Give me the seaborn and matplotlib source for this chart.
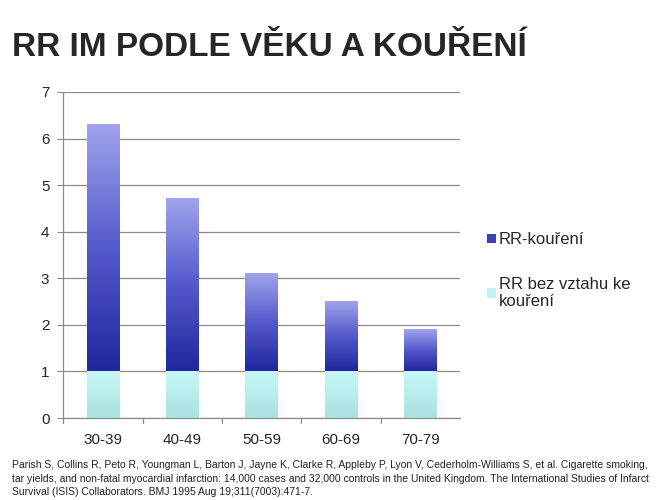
import numpy as np
import pandas as pd
import matplotlib
matplotlib.use("Agg")
import matplotlib.pyplot as plt
from matplotlib.colors import LinearSegmentedColormap
from matplotlib.patches import Patch
import seaborn as sns

# data
age_groups = ["30-39", "40-49", "50-59", "60-69", "70-79"]
rr_baseline = [1.0, 1.0, 1.0, 1.0, 1.0]
rr_smoking = [5.3, 3.7, 2.1, 1.5, 0.9]
y_ticks = [0, 1, 2, 3, 4, 5, 6, 7]

title = "RR IM PODLE VĚKU A KOUŘENÍ"
legend_labels = ["RR-kouření", "RR bez vztahu ke\nkouření"]
citation = ("Parish S, Collins R, Peto R, Youngman L, Barton J, Jayne K, Clarke R, Appleby P, Lyon V, "
            "Cederholm-Williams S, et al. Cigarette smoking,\n"
            "tar yields, and non-fatal myocardial infarction: 14,000 cases and 32,000 controls in the "
            "United Kingdom. The International Studies of Infarct\n"
            "Survival (ISIS) Collaborators. BMJ 1995 Aug 19;311(7003):471-7.")

df = pd.DataFrame({"age": age_groups, "base": rr_baseline, "smoke": rr_smoking})
df["total"] = df["base"] + df["smoke"]

sns.set_style("white")
plt.rcParams["font.family"] = ["Liberation Sans", "DejaVu Sans"]

fig = plt.figure(figsize=(6.66, 5), dpi=100)
ax = fig.add_axes([0.095, 0.164, 0.596, 0.652])

bar_w = 0.41
sns.barplot(data=df, x="age", y="total", ax=ax, width=bar_w, color="#5a5fd0", linewidth=0, zorder=2)
n_top = len(ax.patches)
sns.barplot(data=df, x="age", y="base", ax=ax, width=bar_w, color="#bff3f2", linewidth=0, zorder=3)

blue_cmap = LinearSegmentedColormap.from_list("blu", ["#22269c", "#5459cc", "#a0a4ec"])
cyan_cmap = LinearSegmentedColormap.from_list("cya", ["#a8e2e0", "#c8f8f8"])
grad = np.linspace(0, 1, 256).reshape(-1, 1)

for i, p in enumerate(ax.patches):
    x0, y0 = p.get_x(), p.get_y()
    w, h = p.get_width(), p.get_height()
    cmap = blue_cmap if i < n_top else cyan_cmap
    bottom = 1.0 if i < n_top else y0
    p.set_visible(False)
    ax.imshow(grad, cmap=cmap, origin="lower", aspect="auto",
              extent=(x0, x0 + w, bottom, y0 + h), zorder=3)

ax.set_xlim(-0.5, 4.5)
ax.set_ylim(0, 7)
ax.set_yticks(y_ticks)
ax.set_xticks(range(len(age_groups)))
ax.set_xticklabels(age_groups)
ax.yaxis.grid(True, color="#8a8a8a", linewidth=0.9, zorder=1)
ax.set_axisbelow(True)
ax.set_xlabel("")
ax.set_ylabel("")

for s in ["top", "right"]:
    ax.spines[s].set_visible(False)
ax.spines["left"].set_color("#8a8a8a")
ax.spines["bottom"].set_color("#8a8a8a")
ax.spines["left"].set_linewidth(0.9)
ax.spines["bottom"].set_linewidth(0.9)

ax.tick_params(axis="y", left=True, length=4, color="#8a8a8a", labelsize=11, pad=6)
ax.tick_params(axis="x", bottom=False, labelsize=11, pad=7)
# small boundary ticks between categories
for xb in [-0.5, 0.5, 1.5, 2.5, 3.5]:
    ax.plot([xb, xb], [0, -0.1], color="#8a8a8a", linewidth=0.9, clip_on=False, zorder=1)

handles = [Patch(facecolor="#3d42b8", edgecolor="none"),
           Patch(facecolor="#bff3f2", edgecolor="none")]
fig.legend(handles, legend_labels, loc="upper left", bbox_to_anchor=(0.709, 0.565),
           frameon=False, fontsize=12, handlelength=0.5, handleheight=0.5,
           handletextpad=0.2, labelspacing=1.75)

fig.text(0.018, 0.905, title, fontsize=24, fontweight="bold", ha="left", va="center")
fig.text(0.018, 0.043, citation, fontsize=7.5, ha="left", va="center", linespacing=1.4, color="#222222")

fig.savefig("out.png", dpi=100)
